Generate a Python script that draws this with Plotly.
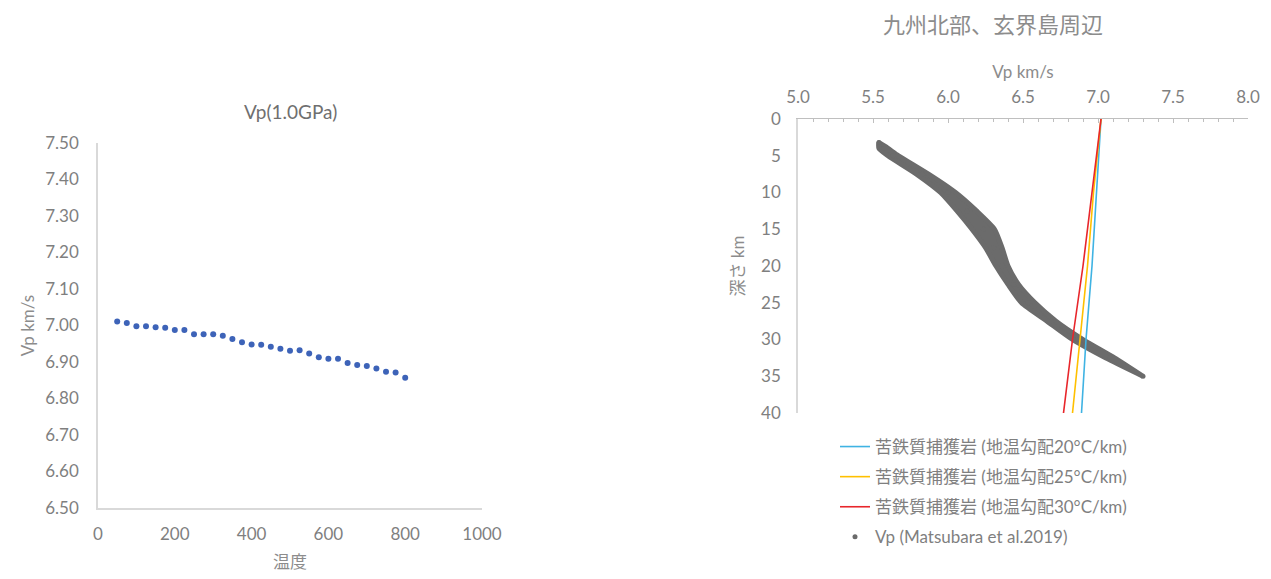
import plotly.graph_objects as go

# --- Left panel: Vp at 1.0 GPa versus temperature ---
temp_c = [50, 75, 100, 125, 150, 175, 200, 225, 250, 275, 300, 325, 350, 375, 400,
          425, 450, 475, 500, 525, 550, 575, 600, 625, 650, 675, 700, 725, 750, 775, 800]
vp_1gpa = [7.011, 7.007, 6.998, 6.998, 6.995, 6.994, 6.988, 6.988, 6.976, 6.976, 6.976,
           6.972, 6.963, 6.954, 6.948, 6.947, 6.942, 6.936, 6.931, 6.932, 6.923, 6.913,
           6.909, 6.909, 6.897, 6.892, 6.889, 6.882, 6.873, 6.871, 6.857]

# --- Right panel: mafic xenolith Vp with depth for three geothermal gradients ---
depth_km = [0, 10, 20, 30, 40]
vp_grad20 = [7.02, 6.99, 6.96, 6.92, 6.89]
vp_grad25 = [7.02, 6.97, 6.93, 6.88, 6.83]
vp_grad30 = [7.02, 6.96, 6.90, 6.83, 6.77]

# Matsubara et al. (2019) Vp range (slowest / fastest) at each depth
mat_depth = [3.2, 4.0, 5.0, 7.5, 10.0, 12.5, 15.0, 17.5, 20.0, 22.5, 25.0, 27.5, 30.0, 32.5, 35.0]
mat_vp_min = [5.54, 5.54, 5.60, 5.79, 5.95, 6.06, 6.16, 6.25, 6.32, 6.40, 6.49, 6.66, 6.83, 7.05, 7.30]
mat_vp_max = [5.54, 5.60, 5.67, 5.87, 6.05, 6.19, 6.31, 6.36, 6.40, 6.47, 6.58, 6.72, 6.90, 7.11, 7.30]

legend_names = [
    "苦鉄質捕獲岩 (地温勾配20°C/km)",
    "苦鉄質捕獲岩 (地温勾配25°C/km)",
    "苦鉄質捕獲岩 (地温勾配30°C/km)",
    "Vp (Matsubara et al.2019)",
]
line_colors = ["#3fb3e3", "#ffc000", "#e8262b"]
band_color = "#6b6b6b"

FONT = "Lato, 'Noto Sans CJK JP', sans-serif"
TICK_GREY = "#7f7f7f"
TITLE_GREY = "#8c8c8c"
AXIS_GREY = "#d9d9d9"

W, H = 1271, 579

def px_x(x):
    return x / W

def px_y(y):
    return 1 - y / H

fig = go.Figure()

# Left scatter
fig.add_trace(go.Scatter(
    x=temp_c, y=vp_1gpa, mode="markers", xaxis="x", yaxis="y",
    marker=dict(color="#3d63b8", size=6), showlegend=False,
))

# Matsubara band (filled outline)
band_x = mat_vp_max + mat_vp_min[::-1]
band_y = mat_depth + mat_depth[::-1]
fig.add_trace(go.Scatter(
    x=band_x, y=band_y, mode="lines", fill="toself", fillcolor=band_color,
    line=dict(color=band_color, width=5, shape="spline", smoothing=0.6),
    xaxis="x2", yaxis="y2", showlegend=False, hoverinfo="skip",
))
mat_mid = [(a + b) / 2 for a, b in zip(mat_vp_min, mat_vp_max)]
fig.add_trace(go.Scatter(
    x=mat_mid, y=mat_depth, mode="markers", name=legend_names[3],
    marker=dict(color=band_color, size=5), xaxis="x2", yaxis="y2",
    legendgroup="g4", legendrank=4,
))

# Xenolith curves
for i, vals in enumerate([vp_grad20, vp_grad25, vp_grad30]):
    fig.add_trace(go.Scatter(
        x=vals, y=depth_km, mode="lines", name=legend_names[i],
        line=dict(color=line_colors[i], width=1.6), xaxis="x2", yaxis="y2",
        legendgroup=f"g{i+1}", legendrank=i + 1,
    ))

tick_font = dict(family=FONT, size=17, color=TICK_GREY)
title_font = dict(family=FONT, size=17, color=TITLE_GREY)

fig.update_layout(
    width=W, height=H,
    margin=dict(l=0, r=0, t=0, b=0),
    paper_bgcolor="white", plot_bgcolor="white",
    font=dict(family=FONT, color=TICK_GREY),
    xaxis=dict(
        domain=[px_x(98), px_x(482)], range=[0, 1000], dtick=200,
        showgrid=False, zeroline=False, showline=True, linecolor=AXIS_GREY, linewidth=1.5,
        ticks="", tickfont=tick_font, ticklabelstandoff=10, automargin=False,
        title=dict(text="温度", font=title_font, standoff=13),
        anchor="y",
    ),
    yaxis=dict(
        domain=[px_y(508), px_y(143)], range=[6.5, 7.5], dtick=0.1, tickformat=".2f",
        showgrid=False, zeroline=False, showline=True, linecolor=AXIS_GREY, linewidth=1.5,
        ticks="", tickfont=tick_font, ticklabelstandoff=14, automargin=False,
        title=dict(text="Vp km/s", font=title_font, standoff=6),
        anchor="x",
    ),
    xaxis2=dict(
        domain=[px_x(798), px_x(1248)], range=[5.0, 8.0], dtick=0.5, tickformat=".1f",
        side="top", anchor="y2",
        showgrid=False, zeroline=False, showline=True, linecolor="#bfbfbf", linewidth=1.2,
        ticks="inside", ticklen=4, tickcolor="#bfbfbf",
        minor=dict(ticks="inside", dtick=0.1, ticklen=3, tickcolor="#bfbfbf", showgrid=False),
        tickfont=tick_font, ticklabelstandoff=8, automargin=False,
        title=dict(text="Vp km/s", font=title_font, standoff=3),
    ),
    yaxis2=dict(
        domain=[px_y(413), px_y(119)], range=[40, 0], dtick=5,
        anchor="x2",
        showgrid=False, zeroline=False, showline=True, linecolor=AXIS_GREY, linewidth=1.5,
        ticks="", tickfont=tick_font, ticklabelstandoff=12, automargin=False,
        title=dict(text="深さ km", font=title_font, standoff=12),
    ),
    legend=dict(
        x=px_x(835), y=px_y(429), xanchor="left", yanchor="top",
        font=dict(family=FONT, size=17, color=TICK_GREY),
        tracegroupgap=5, bgcolor="rgba(0,0,0,0)",
    ),
    annotations=[
        dict(text="Vp(1.0GPa)", x=(px_x(98) + px_x(482)) / 2, y=px_y(112),
             xref="paper", yref="paper", showarrow=False,
             xanchor="center", yanchor="middle",
             font=dict(family=FONT, size=19, color="#6f6f6f")),
        dict(text="九州北部、玄界島周辺", x=px_x(993), y=px_y(23),
             xref="paper", yref="paper", showarrow=False,
             xanchor="center", yanchor="middle",
             font=dict(family="'Noto Sans CJK JP', sans-serif", size=22, color=TITLE_GREY)),
    ],
)

fig.write_html("out.html")
